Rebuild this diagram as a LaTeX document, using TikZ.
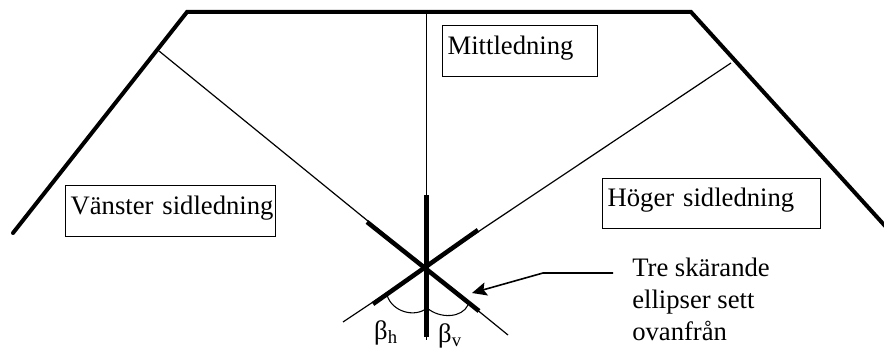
\documentclass[tikz,border=0pt]{standalone}
\usepackage{fontspec}
\setmainfont{Liberation Serif}
\usepackage{tikz}
\usetikzlibrary{arrows.meta, calc}
\tikzset{
    labelbox/.style={draw, line width=0.9pt, rectangle, anchor=north west, inner xsep=3.75pt, inner ysep=0pt, font=\fontsize{20}{20}\selectfont, align=left, text height=15pt, text depth=10pt},
    plainlabel/.style={font=\fontsize{20}{24}\selectfont, align=left, anchor=north west, inner sep=0pt},
    anglelabel/.style={font=\fontsize{20}{20}\selectfont, inner sep=0pt},
    wall/.style={line width=3pt, line cap=round, line join=miter},
    wire/.style={line width=0.9pt},
    ellipseline/.style={line width=3.4pt},
    arrow/.style={-{Stealth[length=11pt, width=10pt, inset=2pt]}, line width=1.2pt},
    anglearc/.style={line width=0.8pt}
}
\begin{document}
\begin{tikzpicture}[x=0.75pt, y=-0.75pt]
        % Fixes the page to the size of the reference
        \useasboundingbox (0,0) rectangle (884,349);

        % Outline of the vessel
        \coordinate (WallL) at (13,233);
        \coordinate (WallTL) at (187,12);
        \coordinate (WallTR) at (691,12);
        \coordinate (WallR) at (886,227);
        \draw[wall] (WallL) -- (WallTL) -- (WallTR) -- (WallR);

        % Crossing point and wire ends
        \coordinate (LeftTop) at (159,51);
        \coordinate (LeftEnd) at (508,335);
        \coordinate (RightTop) at (731,63);
        \coordinate (RightEnd) at (343,322);
        \coordinate (MidTop) at (426.5,12);
        \coordinate (MidEnd) at (426.5,340);

        % Thin wires
        \foreach \u/\v in {LeftTop/LeftEnd, RightTop/RightEnd, MidTop/MidEnd} {
            \draw[wire] (\u) -- (\v);
        }

        % Ellipses seen from above
        \draw[ellipseline] (367,222) -- (479,311);
        \draw[ellipseline] (478,230) -- (373,304);
        \draw[ellipseline] (426.5,195) -- (426.5,337);

        % Angle arcs
        \draw[anglearc] (387,295) .. controls (392,312) and (415,318) .. (427,308);
        \draw[anglearc] (427,308) .. controls (440,319) and (462,318) .. (468,305);

        % Boxes
        \node[labelbox, text width=108.75pt, minimum height=38.25pt] (mid) at (442,25) {Mittledning};
        \node[labelbox, text width=150pt, minimum height=38.25pt] (left) at (65,185) {\mbox{Vänster sidledning}};
        \node[labelbox, text width=156pt, minimum height=37.5pt] (right) at (602,178) {Höger sidledning};

        % Note with its arrow
        \node[plainlabel] (note) at (632,258) {Tre skärande\\ellipser sett\\ovanfrån};
        \coordinate (ArrowStart) at (613,273);
        \coordinate (ArrowBend) at (543,273);
        \coordinate (ArrowEnd) at (472,293);
        \draw[arrow] (ArrowStart) -- (ArrowBend) -- (ArrowEnd);

        % Angle labels
        \node[anglelabel] (bh) at (386,333) {β\textsubscript{h}};
        \node[anglelabel] (bv) at (450,336) {β\textsubscript{v}};
    \end{tikzpicture}
\end{document}
